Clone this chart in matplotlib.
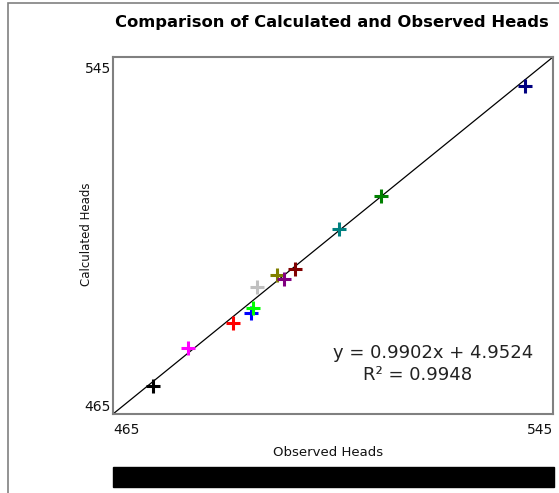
import matplotlib.pyplot as plt
from matplotlib.patches import Rectangle

# observed vs calculated heads
observed = [472.2, 478.7, 486.8, 490.0, 490.4, 491.1, 494.8, 496.1, 498.0, 506.1, 513.7, 539.9]
calculated = [471.3, 479.9, 485.5, 487.7, 488.8, 493.5, 496.2, 495.2, 497.4, 506.5, 513.8, 538.5]
colors = ['black', 'magenta', 'red', 'blue', 'lime', 'silver', 'olive', 'purple', 'maroon',
          'teal', 'green', 'navy']
lims = [465, 545]
equation = "y = 0.9902x + 4.9524"
r2 = "R\u00b2 = 0.9948"

W, H = 559, 493
fig = plt.figure(figsize=(W / 100, H / 100), dpi=100)

# outer frame
fig.patches.append(Rectangle((8 / W, -0.05), 1.1, 1 - 3 / H + 0.05, transform=fig.transFigure,
                             fill=False, edgecolor='#808080', linewidth=1.2))

ax = fig.add_axes([113 / W, 1 - 414 / H, 440 / W, 357 / H])
ax.plot(lims, lims, color='black', linewidth=0.9)
for x, y, c in zip(observed, calculated, colors):
    ax.plot(x, y, marker='+', color=c, markersize=10, markeredgewidth=2.2, linestyle='none')

ax.set_xlim(lims)
ax.set_ylim(lims)
ax.set_xticks([])
ax.set_yticks([])
for s in ax.spines.values():
    s.set_color('#808080')
    s.set_linewidth(1.5)

# end labels of the axes
tick_kw = dict(fontsize=10, color='#111111')
fig.text(111 / W, 1 - 62 / H, str(lims[1]), ha='right', va='top', **tick_kw)
fig.text(111 / W, 1 - 411 / H, str(lims[0]), ha='right', va='baseline', **tick_kw)
fig.text(113 / W, 1 - 430 / H, str(lims[0]), ha='left', va='center', **tick_kw)
fig.text(553 / W, 1 - 430 / H, str(lims[1]), ha='right', va='center', **tick_kw)

fig.text(328 / W, 1 - 452 / H, "Observed Heads", ha='center', va='center', fontsize=9.5,
         color='#111111')
fig.text(87 / W, 1 - 234 / H, "Calculated Heads", ha='center', va='center', fontsize=8.5,
         rotation=90, color='#111111')

ax.text(0.727, 0.171, equation, transform=ax.transAxes, ha='center', va='center',
        fontsize=13, color='#222222')
ax.text(0.693, 0.109, r2, transform=ax.transAxes, ha='center', va='center',
        fontsize=13, color='#222222')

fig.text(332 / W, 1 - 22 / H, "Comparison of Calculated and Observed Heads",
         ha='center', va='center', fontsize=11.8, fontweight='bold')

# black bar under the chart
fig.patches.append(Rectangle((113 / W, 1 - 487 / H), 441 / W, 20 / H,
                             transform=fig.transFigure, color='black'))

fig.savefig("out.png", dpi=100)
